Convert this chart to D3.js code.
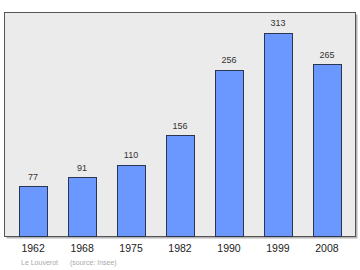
<!DOCTYPE html>
<html>
<head>
<meta charset="utf-8">
<script src="https://cdn.jsdelivr.net/npm/d3@7"></script>
<style>
  body { margin: 0; background: #fff; }
  text { font-family: "Liberation Sans", Arial, sans-serif; }
</style>
</head>
<body>
<div id="chart"></div>
<script>
// Population chart, Le Louverot

var years = ["1962", "1968", "1975", "1982", "1990", "1999", "2008"];
var population = [77, 91, 110, 156, 256, 313, 265];
var placeName = "Le Louverot";
var sourceNote = "(source: Insee)";

var width = 360,
    height = 270;

var frame = { left: 4.5, top: 12.5, right: 355.5, bottom: 236.5 };

var svg = d3.select("#chart").append("svg")
    .attr("width", width)
    .attr("height", height);

// plot background with a little shadow on right and bottom
svg.append("rect")
    .attr("x", frame.left + 2)
    .attr("y", frame.top + 2)
    .attr("width", frame.right - frame.left)
    .attr("height", frame.bottom - frame.top)
    .attr("fill", "#b5b5b5");

svg.append("rect")
    .attr("x", frame.left)
    .attr("y", frame.top)
    .attr("width", frame.right - frame.left)
    .attr("height", frame.bottom - frame.top)
    .attr("fill", "#ebebeb")
    .attr("stroke", "#555")
    .attr("stroke-width", 1);

var xScale = d3.scaleBand()
    .domain(years)
    .range([frame.left + 9.5, frame.right - 9.5])
    .paddingInner(0.42)
    .paddingOuter(0.1);

var yScale = d3.scaleLinear()
    .domain([0, d3.max(population) * 1.1])
    .range([frame.bottom, frame.top]);

var data = years.map(function(y, i) { return { year: y, value: population[i] }; });

svg.selectAll(".bar")
    .data(data)
  .enter().append("rect")
    .attr("class", "bar")
    .attr("x", function(d) { return Math.round(xScale(d.year)) + 0.5; })
    .attr("y", function(d) { return Math.round(yScale(d.value)) + 0.5; })
    .attr("width", Math.round(xScale.bandwidth()))
    .attr("height", function(d) { return frame.bottom - Math.round(yScale(d.value)) - 0.5; })
    .attr("fill", "#6b98ff")
    .attr("stroke", "#2b3550")
    .attr("stroke-width", 1);

svg.selectAll(".val")
    .data(data)
  .enter().append("text")
    .attr("class", "val")
    .attr("x", function(d) { return xScale(d.year) + xScale.bandwidth() / 2; })
    .attr("y", function(d) { return yScale(d.value) - 6.5; })
    .attr("text-anchor", "middle")
    .attr("font-size", "9px")
    .attr("fill", "#333")
    .text(function(d) { return d.value; });

var xAxis = d3.axisBottom(xScale).tickSize(0).tickPadding(0);

var axisG = svg.append("g")
    .attr("transform", "translate(0," + (frame.bottom + 8) + ")")
    .call(xAxis);
axisG.select(".domain").remove();
axisG.selectAll("text")
    .attr("dy", "0.75em")
    .attr("font-size", "10.5px")
    .attr("font-family", "Liberation Sans, Arial, sans-serif")
    .attr("fill", "#222");

svg.append("text")
    .attr("x", 21)
    .attr("y", 265)
    .attr("font-size", "7px")
    .attr("fill", "#aaa")
    .text(placeName);

svg.append("text")
    .attr("x", 70)
    .attr("y", 265)
    .attr("font-size", "7px")
    .attr("fill", "#aaa")
    .text(sourceNote);
</script>
</body>
</html>
